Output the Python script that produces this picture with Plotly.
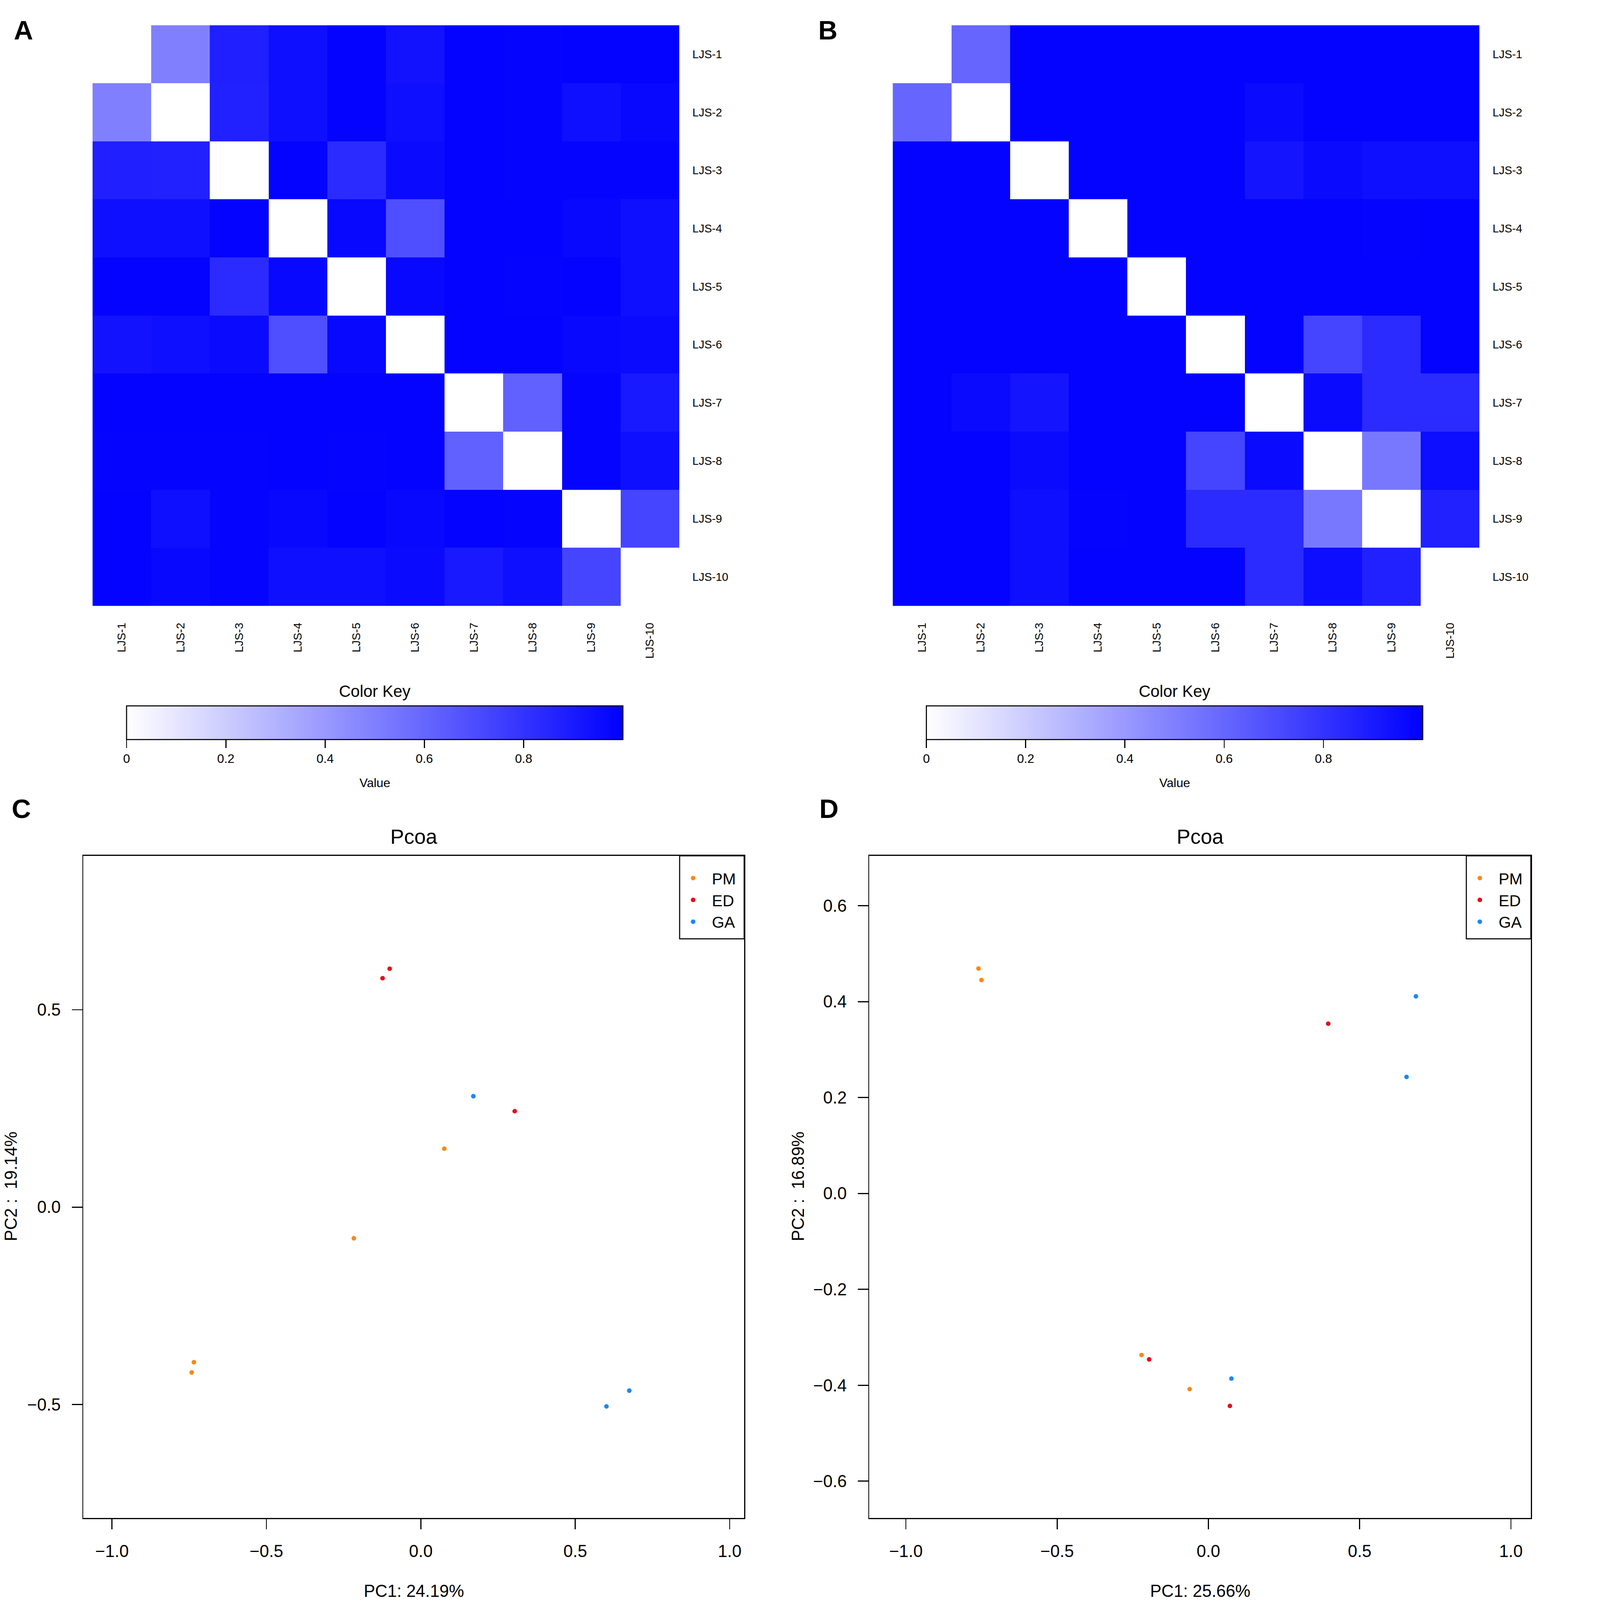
import plotly.graph_objects as go

W, H = 4328, 4513

# sample names for the two distance heatmaps
samples = ["LJS-1", "LJS-2", "LJS-3", "LJS-4", "LJS-5",
           "LJS-6", "LJS-7", "LJS-8", "LJS-9", "LJS-10"]

# panel A distance matrix (row = LJS-1 at top)
dist_a = [
    [0.00, 0.50, 0.88, 0.94, 0.99, 0.93, 0.99, 0.98, 0.99, 0.99],
    [0.50, 0.00, 0.87, 0.94, 0.99, 0.94, 0.99, 0.98, 0.94, 0.97],
    [0.88, 0.87, 0.00, 0.99, 0.83, 0.96, 0.99, 0.98, 0.98, 0.98],
    [0.94, 0.94, 0.99, 0.00, 0.97, 0.69, 0.99, 0.99, 0.97, 0.94],
    [0.99, 0.99, 0.83, 0.97, 0.00, 0.97, 0.99, 0.98, 0.99, 0.94],
    [0.93, 0.94, 0.96, 0.69, 0.97, 0.00, 0.99, 0.99, 0.97, 0.96],
    [0.99, 0.99, 0.99, 0.99, 0.99, 0.99, 0.00, 0.62, 0.98, 0.90],
    [0.98, 0.98, 0.98, 0.99, 0.98, 0.99, 0.62, 0.00, 0.98, 0.94],
    [0.99, 0.94, 0.98, 0.97, 0.99, 0.97, 0.99, 0.98, 0.00, 0.73],
    [0.99, 0.97, 0.98, 0.94, 0.94, 0.96, 0.90, 0.94, 0.73, 0.00],
]

# panel B distance matrix
dist_b = [
    [0.00, 0.60, 0.99, 0.99, 0.99, 0.99, 0.99, 0.99, 0.99, 0.99],
    [0.60, 0.00, 0.99, 0.99, 0.99, 0.99, 0.96, 0.99, 0.99, 0.99],
    [0.99, 0.99, 0.00, 0.99, 0.99, 0.99, 0.92, 0.96, 0.94, 0.94],
    [0.99, 0.99, 0.99, 0.00, 0.99, 0.99, 0.99, 0.99, 0.98, 0.99],
    [0.99, 0.99, 0.99, 0.99, 0.00, 0.99, 0.99, 0.99, 0.99, 0.99],
    [0.99, 0.99, 0.99, 0.99, 0.99, 0.00, 0.99, 0.73, 0.83, 0.99],
    [0.99, 0.96, 0.92, 0.99, 0.99, 0.99, 0.00, 0.96, 0.83, 0.83],
    [0.99, 0.99, 0.96, 0.99, 0.99, 0.73, 0.96, 0.00, 0.53, 0.95],
    [0.99, 0.99, 0.94, 0.98, 0.99, 0.83, 0.83, 0.53, 0.00, 0.87],
    [0.99, 0.99, 0.94, 0.99, 0.99, 0.99, 0.83, 0.95, 0.87, 0.00],
]

key_ticks = [0, 0.2, 0.4, 0.6, 0.8]
key_labels = ["0", "0.2", "0.4", "0.6", "0.8"]

# PCoA groups
groups = ["PM", "ED", "GA"]
group_colors = {"PM": "#F7891A", "ED": "#E3101A", "GA": "#1E88F0"}

# panel C coordinates
c_group = ["PM", "PM", "PM", "PM", "ED", "ED", "ED", "GA", "GA", "GA"]
c_pc1 = [-0.735, -0.742, -0.217, 0.076, -0.124, -0.101, 0.304, 0.170, 0.675, 0.601]
c_pc2 = [-0.393, -0.419, -0.079, 0.148, 0.580, 0.604, 0.243, 0.281, -0.465, -0.505]

# panel D coordinates
d_group = ["PM", "PM", "PM", "PM", "ED", "ED", "ED", "GA", "GA", "GA"]
d_pc1 = [-0.760, -0.750, -0.221, -0.062, 0.396, -0.196, 0.071, 0.686, 0.655, 0.076]
d_pc2 = [0.469, 0.445, -0.337, -0.408, 0.354, -0.346, -0.443, 0.411, 0.243, -0.386]

c_xticks = [-1.0, -0.5, 0.0, 0.5, 1.0]
c_yticks = [-0.5, 0.0, 0.5]
d_yticks = [-0.6, -0.4, -0.2, 0.0, 0.2, 0.4, 0.6]

FONT = "Liberation Sans, Arial, sans-serif"


def px_x(p):
    return p / W


def px_y(p):
    return 1 - p / H


def fmt(v):
    s = "%.1f" % v
    return s.replace("-", "\u2212")


fig = go.Figure()

# heatmaps A and B
heat_specs = [
    (dist_a, "x", "y", 1057),
    (dist_b, "x2", "y2", 3313),
]
for z, xa, ya, kx in heat_specs:
    fig.add_trace(go.Heatmap(
        z=z, x=samples, y=samples, xaxis=xa, yaxis=ya,
        colorscale=[[0, "#FFFFFF"], [1, "#0000FF"]], zmin=0, zmax=1,
        colorbar=dict(
            orientation="h", x=px_x(kx), xanchor="center",
            y=px_y(1991), yanchor="top", len=1400 / W, lenmode="fraction",
            thickness=95, thicknessmode="pixels", xpad=0, ypad=0,
            outlinewidth=3, outlinecolor="black",
            ticks="outside", ticklen=23, tickwidth=3, tickcolor="black",
            tickvals=key_ticks, ticktext=key_labels,
            tickfont=dict(size=35, color="black", family=FONT),
        ),
    ))

# PCoA scatter C and D
for pc1, pc2, grp, xa, ya, leg in [(c_pc1, c_pc2, c_group, "x3", "y3", "legend"),
                                   (d_pc1, d_pc2, d_group, "x4", "y4", "legend2")]:
    for g in groups:
        xs = [a for a, k in zip(pc1, grp) if k == g]
        ys = [b for b, k in zip(pc2, grp) if k == g]
        fig.add_trace(go.Scatter(
            x=xs, y=ys, mode="markers", name=g, xaxis=xa, yaxis=ya,
            marker=dict(size=13, color=group_colors[g]), legend=leg,
        ))

heat_axis = dict(showgrid=False, zeroline=False, ticks="", showline=False,
                 tickfont=dict(size=32, color="black", family=FONT))
fig.update_layout(
    xaxis=dict(heat_axis, domain=[px_x(261), px_x(1916)], anchor="y",
               tickangle=-90, ticklabelstandoff=40),
    yaxis=dict(heat_axis, domain=[px_y(1709), px_y(71)], anchor="x",
               side="right", autorange="reversed", ticklabelstandoff=36),
    xaxis2=dict(heat_axis, domain=[px_x(2518), px_x(4173)], anchor="y2",
                tickangle=-90, ticklabelstandoff=40),
    yaxis2=dict(heat_axis, domain=[px_y(1709), px_y(71)], anchor="x2",
                side="right", autorange="reversed", ticklabelstandoff=36),
)

sc_axis = dict(showgrid=False, zeroline=False, showline=True, mirror=True,
               linecolor="black", linewidth=3, ticks="outside", ticklen=29,
               tickwidth=3, tickcolor="black",
               tickfont=dict(size=48, color="black", family=FONT))
fig.update_layout(
    xaxis3=dict(sc_axis, domain=[px_x(235), px_x(2099)], anchor="y3",
                range=[-1.093, 1.047], tickvals=c_xticks,
                ticktext=[fmt(v) for v in c_xticks], ticklabelstandoff=20),
    yaxis3=dict(sc_axis, domain=[px_y(4282), px_y(2414)], anchor="x3",
                range=[-0.788, 0.890], tickvals=c_yticks,
                ticktext=[fmt(v) for v in c_yticks], ticklabelstandoff=22),
    xaxis4=dict(sc_axis, domain=[px_x(2452), px_x(4318)], anchor="y4",
                range=[-1.121, 1.066], tickvals=c_xticks,
                ticktext=[fmt(v) for v in c_xticks], ticklabelstandoff=20),
    yaxis4=dict(sc_axis, domain=[px_y(4282), px_y(2414)], anchor="x4",
                range=[-0.677, 0.704], tickvals=d_yticks,
                ticktext=[fmt(v) for v in d_yticks], ticklabelstandoff=22),
)

# legends: plotly legend entries inside a drawn box (R style)
leg_style = dict(xanchor="left", yanchor="top", bgcolor="rgba(0,0,0,0)",
                 borderwidth=0, itemwidth=96,
                 font=dict(size=45, color="black", family=FONT),
                 itemsizing="trace")
fig.update_layout(
    legend=dict(leg_style, x=px_x(1902), y=px_y(2441)),
    legend2=dict(leg_style, x=px_x(4121), y=px_y(2441)),
)
for bx0, bx1 in [(1917, 2099), (4136, 4318)]:
    fig.add_shape(type="rect", xref="paper", yref="paper",
                  x0=px_x(bx0), x1=px_x(bx1), y0=px_y(2648), y1=px_y(2414),
                  line=dict(color="black", width=3), fillcolor="white",
                  layer="below")

# texts
notes = []
for lbl, x, y in [("A", 66, 85), ("B", 2335, 85), ("C", 60, 2281), ("D", 2338, 2281)]:
    notes.append(dict(text="<b>%s</b>" % lbl, x=px_x(x), y=px_y(y),
                      font=dict(size=75, family=FONT, color="black")))
for kx in [1057, 3313]:
    notes.append(dict(text="Color Key", x=px_x(kx), y=px_y(1950),
                      font=dict(size=46, family=FONT, color="black")))
    notes.append(dict(text="Value", x=px_x(kx), y=px_y(2207),
                      font=dict(size=35, family=FONT, color="black")))
for cx, yx, pc1_lbl, pc2_lbl in [(1167, 30, "PC1: 24.19%", "PC2 :\u00a0 19.14%"),
                                 (3385, 2250, "PC1: 25.66%", "PC2 :\u00a0 16.89%")]:
    notes.append(dict(text="Pcoa", x=px_x(cx), y=px_y(2359),
                      font=dict(size=58, family=FONT, color="black")))
    notes.append(dict(text=pc1_lbl, x=px_x(cx), y=px_y(4487),
                      font=dict(size=48, family=FONT, color="black")))
    notes.append(dict(text=pc2_lbl, x=px_x(yx), y=px_y(3346), textangle=-90,
                      font=dict(size=48, family=FONT, color="black")))
for n in notes:
    n.update(xref="paper", yref="paper", showarrow=False,
             xanchor="center", yanchor="middle")

fig.update_layout(
    width=W, height=H, margin=dict(l=0, r=0, t=0, b=0),
    paper_bgcolor="white", plot_bgcolor="rgba(0,0,0,0)",
    font=dict(family=FONT, color="black"),
    annotations=notes,
)

# keep the whole page inside the browser viewport
fit_js = """
(function(){
var gd = document.getElementById('{plot_id}');
document.body.style.margin = '0';
document.body.style.overflow = 'hidden';
var s = Math.min(window.innerWidth / %d, window.innerHeight / %d, 1);
gd.style.transformOrigin = '0 0';
gd.style.transform = 'scale(' + s + ')';
})();
""" % (W, H)

fig.write_html("out.html", post_script=fit_js,
               config={"displayModeBar": False})
